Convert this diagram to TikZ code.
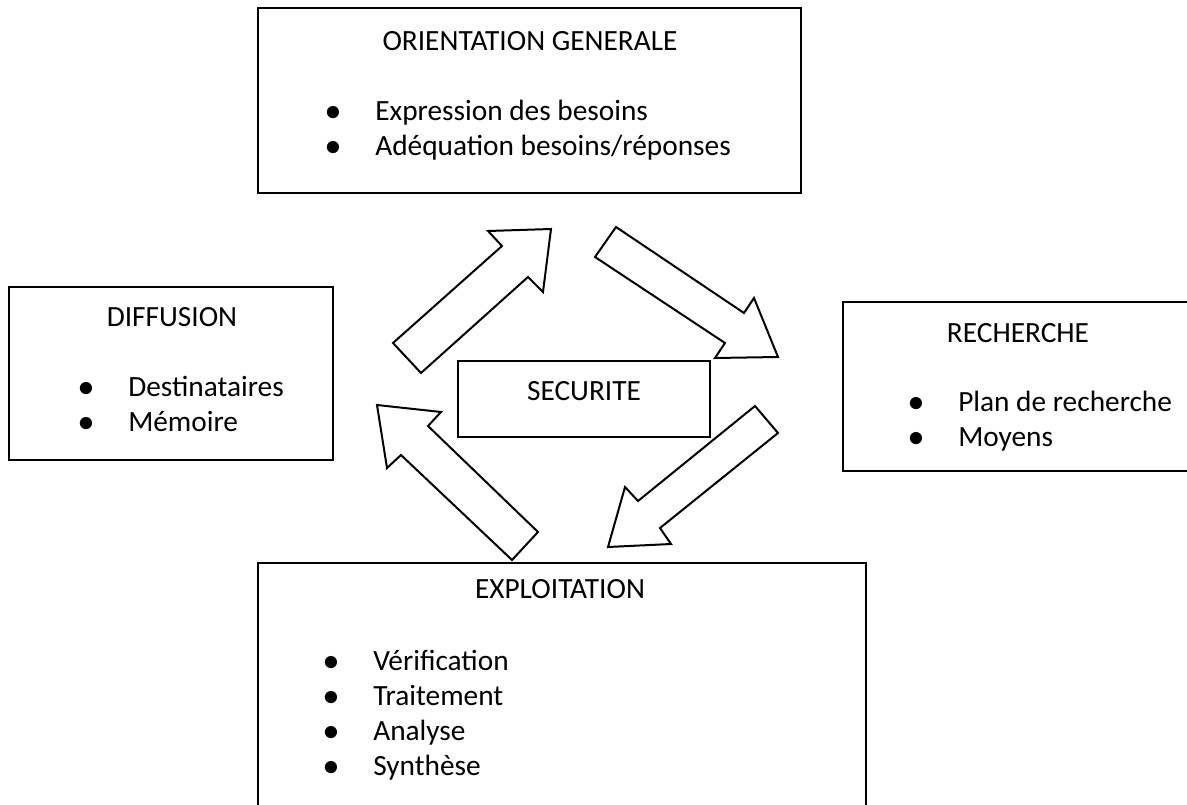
\documentclass[tikz,border=0pt]{standalone}
\usepackage{fontspec}
\setmainfont{Carlito}
\begin{document}
\begin{tikzpicture}[x=0.75pt,y=-0.75pt,
  box/.style={draw=black, line width=1.5pt},
  txt/.style={inner sep=0pt, font=\fontsize{22}{26}\selectfont},
  title/.style={txt, anchor=mid},
  item/.style={txt, anchor=mid west},
  dot/.style={txt, anchor=mid, scale=1.15},
  blockarrow/.style={draw=black, fill=white, line width=1.5pt, line join=miter}]
\useasboundingbox (0,0) rectangle (1187,805);
\clip (0,0) rectangle (1187,805);

% ---- boxes ----
\draw[box] (258,8) rectangle (801,193);
\draw[box] (9,287) rectangle (333,460);
\draw[box] (458,361) rectangle (710,437);
\draw[box] (843,302) rectangle (1200,471);
\draw[box] (258,563) rectangle (866,820);

% ---- orientation generale ----
\node[title] (og) at (530,47) {ORIENTATION GENERALE};
\node[dot]  (og1d) at (333,117) {$\bullet$};
\node[item] (og1) at (375,117) {Expression des besoins};
\node[dot]  (og2d) at (333,152) {$\bullet$};
\node[item] (og2) at (375,152) {Adéquation besoins/réponses};

% ---- diffusion ----
\node[title] (df) at (172,323) {DIFFUSION};
\node[dot]  (df1d) at (86,393) {$\bullet$};
\node[item] (df1) at (128,393) {Destinataires};
\node[dot]  (df2d) at (86,428) {$\bullet$};
\node[item] (df2) at (128,428) {Mémoire};

% ---- securite ----
\node[title] (sec) at (584,397) {SECURITE};

% ---- recherche ----
\node[title] (rc) at (1018,339) {RECHERCHE};
\node[dot]  (rc1d) at (916,408) {$\bullet$};
\node[item] (rc1) at (958,408) {Plan de recherche};
\node[dot]  (rc2d) at (916,443) {$\bullet$};
\node[item] (rc2) at (958,443) {Moyens};

% ---- exploitation ----
\node[title] (ex) at (560,595) {EXPLOITATION};
\node[dot]  (ex1d) at (331,667) {$\bullet$};
\node[item] (ex1) at (373,667) {Vérification};
\node[dot]  (ex2d) at (331,702) {$\bullet$};
\node[item] (ex2) at (373,702) {Traitement};
\node[dot]  (ex3d) at (331,737) {$\bullet$};
\node[item] (ex3) at (373,737) {Analyse};
\node[dot]  (ex4d) at (331,772) {$\bullet$};
\node[item] (ex4) at (373,772) {Synthèse};

% ---- block arrows of the cycle ----
\draw[blockarrow] (393,343) -- (502,246) -- (488,231) -- (551,229) -- (543,292) -- (528,277) -- (421,373) -- cycle;
\draw[blockarrow] (616,227) -- (744,313) -- (754,298) -- (778,357) -- (715,358) -- (725,343) -- (595,257) -- cycle;
\draw[blockarrow] (755,406) -- (778,433) -- (660,528) -- (671,544) -- (608,547) -- (625,487) -- (638,501) -- cycle;
\draw[blockarrow] (538,532) -- (428,426) -- (441,412) -- (377,405) -- (387,468) -- (401,455) -- (512,560) -- cycle;
\end{tikzpicture}
\end{document}
